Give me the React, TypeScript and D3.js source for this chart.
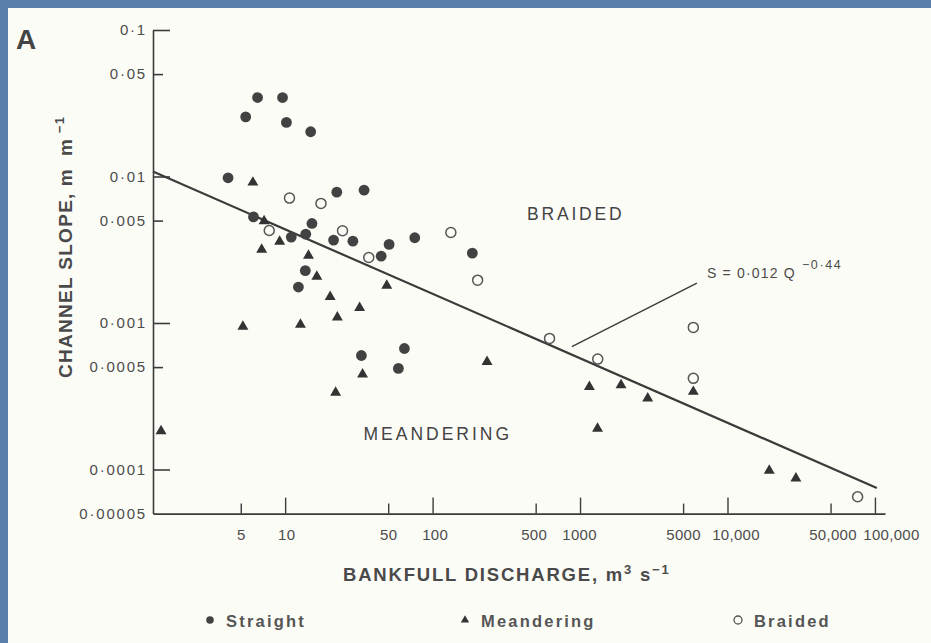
import { useEffect, useRef } from 'react'
import * as d3 from 'd3'

// bankfull discharge Q (m3/s) and channel slope S (m/m)
const straightQ = [4.1, 5.4, 6.5, 9.6, 10.2, 14.9, 6.1, 11.0, 13.8, 15.2, 13.7, 12.3, 21.3, 22.4, 34.3, 28.8, 44.8, 50.7, 75.7, 186, 32.9, 64.4, 58.6]
const straightS = [0.0098, 0.0255, 0.0346, 0.0346, 0.0234, 0.0202, 0.0053, 0.00386, 0.00404, 0.00478, 0.00228, 0.00176, 0.00368, 0.00782, 0.00807, 0.00362, 0.00286, 0.00344, 0.00382, 0.003, 0.0006, 0.00067, 0.00049]

const meanderQ = [1.44, 5.17, 6.04, 7.2, 6.93, 9.18, 14.4, 16.4, 20.2, 22.6, 32.0, 12.7, 33.5, 22.0, 48.9, 234, 1157, 1314, 1897, 2877, 5864, 19200, 29100]
const meanderS = [0.000186, 0.00096, 0.00925, 0.00504, 0.00322, 0.00365, 0.00293, 0.00211, 0.00153, 0.00111, 0.00129, 0.00099, 0.000453, 0.00034, 0.00183, 0.000552, 0.000372, 0.000193, 0.000383, 0.000311, 0.000345, 0.0001, 0.0000884]

const braidedQ = [7.8, 10.7, 17.5, 24.5, 36.9, 133, 202, 621, 1318, 5864, 5864, 76300]
const braidedS = [0.00428, 0.00712, 0.00655, 0.00426, 0.0028, 0.00415, 0.00196, 0.000785, 0.000567, 0.000933, 0.000419, 0.0000652]

const xTicks = [5, 10, 50, 100, 500, 1000, 5000, 10000, 50000, 100000]
const xTickLabels = ['5', '10', '50', '100', '500', '1000', '5000', '10,000', '50,000', '100,000']
const yTicks = [0.1, 0.05, 0.01, 0.005, 0.001, 0.0005, 0.0001, 0.00005]
const yTickLabels = ['0·1', '0·05', '0·01', '0·005', '0·001', '0·0005', '0·0001', '0·00005']

// S = 0.012 Q^-0.44
const fitCoef = 0.012
const fitExp = -0.44
const fitQRange = [1.27, 103000]

const legendLabels = ['Straight', 'Meandering', 'Braided']

const W = 931
const H = 643
const FONT = '"Liberation Sans", Arial, Helvetica, sans-serif'
const INK = '#3b3b3b'
const TEXT = '#4c4c4c'
const PAPER = '#fcfcf7'
// small horizontal nudges of the x tick labels, as typeset in the original
const xLabelNudge = [0, 1, 0, 2, -2, -1, 0, 8, 2, 16]

export default function App() {
  const ref = useRef<SVGSVGElement>(null)

  useEffect(() => {
    const svg = d3.select(ref.current)
    svg.selectAll('*').remove()

    svg.append('rect').attr('width', W).attr('height', H).attr('fill', '#5a7fab')
    svg.append('rect').attr('x', 8).attr('y', 8).attr('width', W - 8).attr('height', H - 8).attr('fill', PAPER)

    const x = d3.scaleLog().domain([1.27, 117000]).range([153, 885])
    const y = d3.scaleLog().domain([0.00005, 0.1]).range([513.6, 30])
    const isMajor = (v: number) => Math.abs(Math.log10(v) - Math.round(Math.log10(v))) < 1e-6

    // y axis, ticks pointing into the plot
    const gy = svg.append('g').attr('transform', `translate(${x.range()[0]},0)`)
      .call(d3.axisLeft(y).tickValues(yTicks).tickSize(0).tickPadding(6).tickFormat((d, i) => yTickLabels[i]))
    gy.attr('font-family', FONT).attr('font-size', 15)
    gy.select('.domain').attr('stroke', INK).attr('stroke-width', 1.6)
    gy.selectAll<SVGLineElement, number>('.tick line')
      .attr('stroke', INK).attr('stroke-width', 1.6)
      .attr('x2', d => d === yTicks[yTicks.length - 1] ? 0 : isMajor(d) ? 17 : 10)
    gy.selectAll('.tick text').attr('fill', TEXT).attr('letter-spacing', 1.8)

    // x axis
    const gx = svg.append('g').attr('transform', `translate(0,${y.range()[0]})`)
      .call(d3.axisBottom(x).tickValues(xTicks).tickSize(0).tickPadding(16).tickFormat((d, i) => xTickLabels[i]))
    gx.attr('font-family', FONT).attr('font-size', 15)
    gx.select('.domain').attr('stroke', INK).attr('stroke-width', 1.6)
    gx.selectAll<SVGLineElement, number>('.tick line')
      .attr('stroke', INK).attr('stroke-width', 1.4)
      .attr('y2', d => isMajor(d) ? -16 : -10)
    gx.selectAll<SVGTextElement, number>('.tick text')
      .attr('fill', TEXT).attr('letter-spacing', 0.3)
      .attr('dx', (d, i) => xLabelNudge[i])

    // regression line
    const fit = d3.line<number>().x(q => x(q)).y(q => y(fitCoef * Math.pow(q, fitExp)))
    svg.append('path').attr('d', fit(fitQRange)).attr('fill', 'none')
      .attr('stroke', INK).attr('stroke-width', 2.2)

    // leader + equation
    const leadA = [880, 0.00069]
    const leadB = [6200, 0.00187]
    svg.append('line')
      .attr('x1', x(leadA[0])).attr('y1', y(leadA[1]))
      .attr('x2', x(leadB[0])).attr('y2', y(leadB[1]))
      .attr('stroke', INK).attr('stroke-width', 1.4)
    const eq = svg.append('text')
      .attr('x', x(leadB[0]) + 10).attr('y', y(leadB[1]) - 5)
      .attr('font-family', FONT).attr('font-size', 14).attr('fill', TEXT).attr('letter-spacing', 1.2)
    eq.append('tspan').text('S = 0·012 Q')
    eq.append('tspan').attr('dx', 6).attr('dy', -9).attr('font-size', 12.5).attr('letter-spacing', 1.6).text('−0·44')

    // region labels
    svg.append('text').attr('x', x(437)).attr('y', y(0.00508))
      .attr('font-family', FONT).attr('font-size', 17.5).attr('fill', '#444').attr('letter-spacing', 2.8)
      .text('BRAIDED')
    svg.append('text').attr('x', x(34)).attr('y', y(0.000159))
      .attr('font-family', FONT).attr('font-size', 17.5).attr('fill', '#444').attr('letter-spacing', 3)
      .text('MEANDERING')

    // points
    const tri = d3.symbol().type(d3.symbolTriangle).size(52)
    svg.append('g').selectAll('path').data(meanderQ).join('path')
      .attr('d', tri)
      .attr('transform', (d, i) => `translate(${x(d)},${y(meanderS[i]) + 1})`)
      .attr('fill', '#333')
    svg.append('g').selectAll('circle').data(straightQ).join('circle')
      .attr('cx', d => x(d)).attr('cy', (d, i) => y(straightS[i]))
      .attr('r', 5.4).attr('fill', '#424242')
    svg.append('g').selectAll('circle').data(braidedQ).join('circle')
      .attr('cx', d => x(d)).attr('cy', (d, i) => y(braidedS[i]))
      .attr('r', 5).attr('fill', PAPER).attr('stroke', '#555').attr('stroke-width', 1.5)

    // panel letter
    svg.append('text').attr('x', 16).attr('y', 49)
      .attr('font-family', FONT).attr('font-weight', 'bold').attr('font-size', 28).attr('fill', '#444')
      .text('A')

    // axis titles
    const yt = svg.append('text')
      .attr('transform', 'translate(72,378) rotate(-90)')
      .attr('font-family', FONT).attr('font-weight', 'bold').attr('font-size', 19).attr('fill', '#4a4a4a')
      .attr('letter-spacing', 1.3)
    yt.append('tspan').text('CHANNEL SLOPE,')
    yt.append('tspan').attr('dx', 6).attr('letter-spacing', 4).text('m m')
    yt.append('tspan').attr('dx', 2).attr('dy', -8).attr('font-size', 13).text('−1')

    const xt = svg.append('text').attr('x', 343).attr('y', 581)
      .attr('font-family', FONT).attr('font-weight', 'bold').attr('font-size', 18.5).attr('fill', '#4a4a4a')
      .attr('letter-spacing', 1.8)
    xt.append('tspan').text('BANKFULL DISCHARGE, m')
    xt.append('tspan').attr('dy', -7).attr('font-size', 13).text('3')
    xt.append('tspan').attr('dy', 7).text(' s')
    xt.append('tspan').attr('dy', -7).attr('font-size', 13).text('−1')

    // legend
    const lx = [210, 465, 738]
    const ly = 620
    const lg = svg.append('g')
    lg.append('circle').attr('cx', lx[0]).attr('cy', ly).attr('r', 3.8).attr('fill', '#424242')
    lg.append('path').attr('d', d3.symbol().type(d3.symbolTriangle).size(30)())
      .attr('transform', `translate(${lx[1]},${ly})`).attr('fill', '#333')
    lg.append('circle').attr('cx', lx[2]).attr('cy', ly).attr('r', 4)
      .attr('fill', PAPER).attr('stroke', '#555').attr('stroke-width', 1.3)
    lg.selectAll('text').data(legendLabels).join('text')
      .attr('x', (d, i) => lx[i] + 16).attr('y', ly + 7)
      .attr('font-family', FONT).attr('font-weight', 'bold').attr('font-size', 16.5)
      .attr('fill', '#555').attr('letter-spacing', 2.2)
      .text(d => d)
  }, [])

  return (
    <div style={{ position: 'fixed', left: 0, top: 0, width: W, height: H }}>
      <svg ref={ref} width={W} height={H} style={{ display: 'block' }}></svg>
    </div>
  )
}
